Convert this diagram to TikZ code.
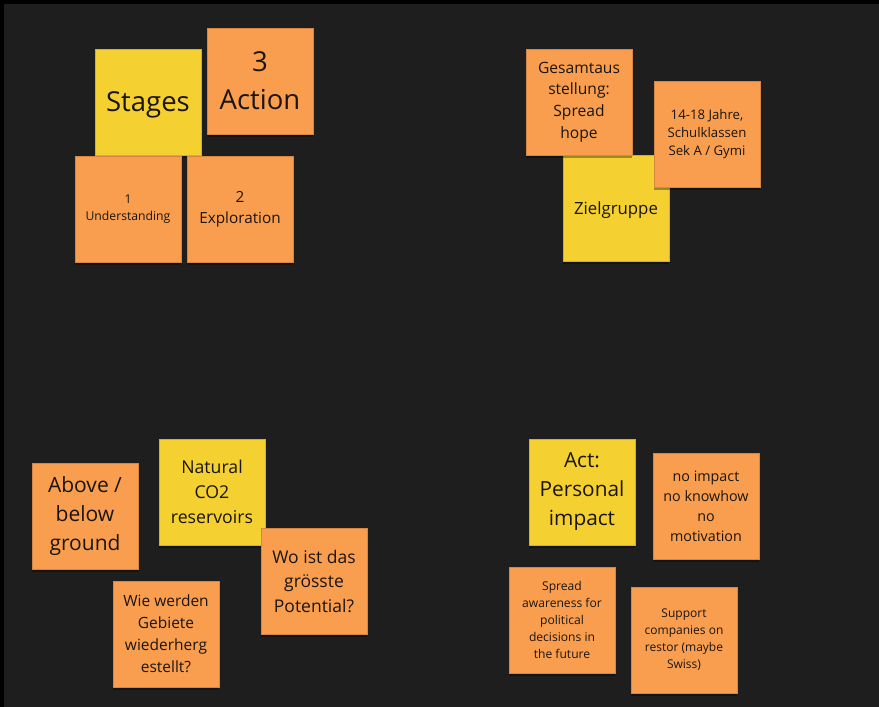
\documentclass[tikz,border=0pt]{standalone}
\usepackage{fontspec}
\setmainfont{Open Sans}
\usetikzlibrary{shadows}
\definecolor{board}{HTML}{1E1E1E}
\definecolor{noteorange}{HTML}{F99E4E}
\definecolor{noteyellow}{HTML}{F4D130}
\definecolor{notetext}{HTML}{1A1512}
\newcommand{\notesize}[2]{\fontsize{#1}{#2}\selectfont}
\tikzset{
  note/.style={minimum width=106pt, minimum height=106pt, inner sep=0pt,
    align=center, text=notetext,
    drop shadow={shadow xshift=0pt, shadow yshift=-3pt, opacity=.35, fill=black}},
  orangenote/.style={note, fill=noteorange, draw=noteorange!85!black, line width=.4pt},
  yellownote/.style={note, fill=noteyellow, draw=noteyellow!85!black, line width=.4pt}
}
\begin{document}
\begin{tikzpicture}[x=1pt, y=-1pt]
\fill[board] (0,0) rectangle (879,707);
\fill[black] (0,0) rectangle (879,4);
\fill[black] (0,0) rectangle (4,707);
\useasboundingbox (0,0) rectangle (879,707);

% stages
\node[yellownote, font=\notesize{27.5}{38}, text depth=0pt] (stages) at (148,102) {Stages};
\node[orangenote, font=\notesize{27.5}{38}] (action) at (260,81) {3\\Action};
\node[orangenote, font=\notesize{12.2}{17}] (underst) at (128,209) {1\\Understanding};
\node[orangenote, font=\notesize{15.3}{21}] (explor) at (240,209) {2\\Exploration};

% zielgruppe
\node[yellownote, font=\notesize{16.8}{23}, text depth=0pt] (ziel) at (616,208) {Zielgruppe};
\node[orangenote, font=\notesize{15.6}{21.7}] (gesamt) at (579,102) {Gesamtaus\\stellung:\\Spread\\hope};
\node[orangenote, font=\notesize{13.2}{18.3}] (jahre) at (707,134) {14-18 Jahre,\\Schulklassen\\Sek A / Gymi};

% reservoirs
\node[orangenote, font=\notesize{21}{29}] (above) at (85,516) {Above /\\below\\ground};
\node[yellownote, font=\notesize{17.7}{24.7}] (natural) at (212,492) {Natural\\CO2\\reservoirs};
\node[orangenote, font=\notesize{17.5}{24.5}] (wo) at (314,581) {Wo ist das\\grösste\\Potential?};
\node[orangenote, font=\notesize{15.5}{22}] (wie) at (166,634) {Wie werden\\Gebiete\\wiederherg\\estellt?};

% act
\node[yellownote, font=\notesize{20.8}{29}] (act) at (582,492) {Act:\\Personal\\impact};
\node[orangenote, font=\notesize{14.3}{20}] (noimpact) at (706,506) {no impact\\no knowhow\\no\\motivation};
\node[orangenote, font=\notesize{12.1}{16.8}] (spread) at (562,620) {Spread\\awareness for\\political\\decisions in\\the future};
\node[orangenote, font=\notesize{12}{17}] (support) at (684,640) {Support\\companies on\\restor (maybe\\Swiss)};
\end{tikzpicture}
\end{document}
